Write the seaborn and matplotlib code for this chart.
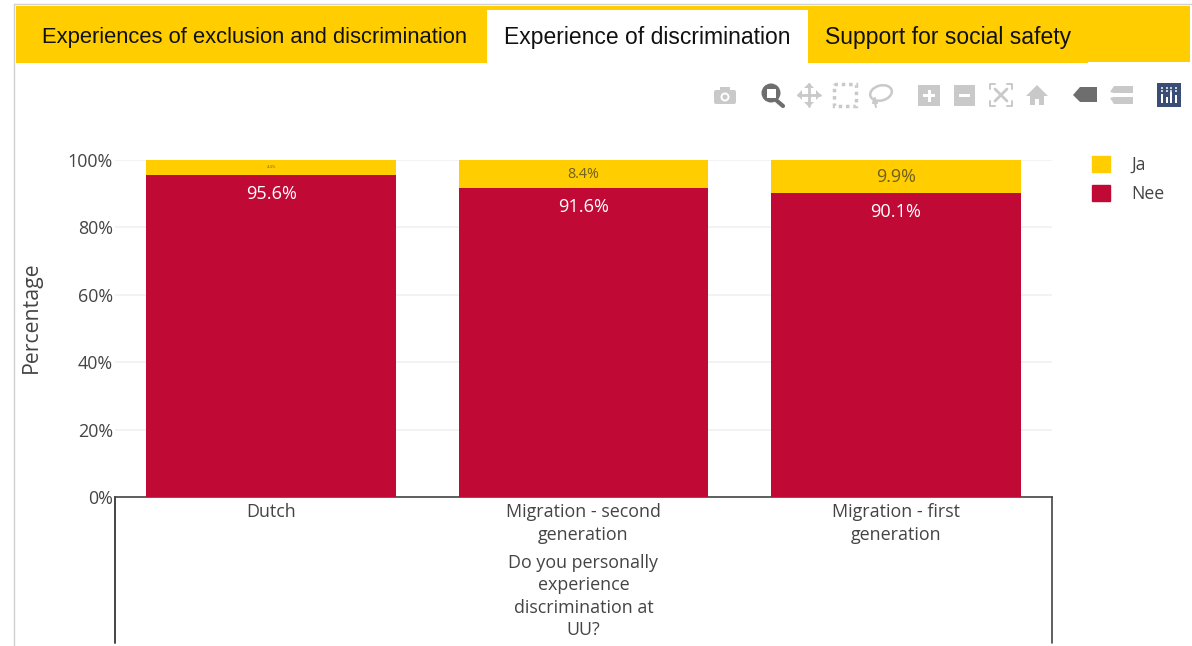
import matplotlib
matplotlib.use("Agg")
import matplotlib.pyplot as plt
from matplotlib.patches import Circle, Ellipse, FancyBboxPatch, Patch, Polygon, Rectangle
import seaborn as sns

categories = ["Dutch", "Migration - second\ngeneration", "Migration - first\ngeneration"]
nee = [95.6, 91.6, 90.1]
ja = [4.4, 8.4, 9.9]
yticks = [0, 20, 40, 60, 80, 100]
tabs = ["Experiences of exclusion and discrimination", "Experience of discrimination", "Support for social safety"]
xtitle = "Do you personally\nexperience\ndiscrimination at\nUU?"

YELLOW = "#ffcd00"
RED = "#c00a35"
TEXT = "#444444"
LIGHT = "#c9c9c9"
DARK = "#6e6e6e"
W, H = 1192, 646

sns.set_theme(style="white")
plt.rcParams["font.family"] = ["Open Sans", "DejaVu Sans"]

fig = plt.figure(figsize=(W / 100, H / 100), dpi=100, facecolor="white")
ax = fig.add_axes([115 / W, (H - 497) / H, 937 / W, 337 / H])

sns.barplot(x=categories, y=nee, color=RED, saturation=1, width=0.8, ax=ax, zorder=3, linewidth=0, edgecolor="none")
sns.barplot(x=categories, y=ja, bottom=nee, color=YELLOW, saturation=1, width=0.8, ax=ax, zorder=3,
            linewidth=0, edgecolor="none")
ax.set_xlim(-0.5, 2.5)
ax.set_ylim(0, 100)

ax.set_yticks(yticks, [f"{v}%" for v in yticks])
ax.yaxis.grid(True, color="#f0f0f0", lw=1.1, zorder=0)
ax.tick_params(axis="y", length=0, pad=1.5, labelsize=12.9, labelcolor=TEXT)
ax.tick_params(axis="x", length=0, pad=4.5, labelsize=12.9, labelcolor=TEXT)
for label in ax.get_xticklabels():
    label.set_linespacing(1.33)
for side in ["top", "left", "right"]:
    ax.spines[side].set_visible(False)
ax.spines["bottom"].set_color(TEXT)
ax.spines["bottom"].set_linewidth(1.2)

ax.set_ylabel("Percentage", fontsize=15.3, color=TEXT)
ax.yaxis.set_label_coords((42 - 115) / 937, 0.534)
ax.set_xlabel(xtitle, fontsize=12.9, color=TEXT, linespacing=1.33, va="top")
ax.xaxis.set_label_coords(0.5, -(553.5 - 497) / 337)

red_bars = ax.containers[0]
ax.bar_label(red_bars, labels=[f"{v}%" for v in nee], label_type="edge", padding=-20,
             color="white", fontsize=13.1)
for val, size in zip(ja, [3, 10.3, 12.9]):
    ax.bar_label(ax.containers[1], labels=[f"{v}%" if v == val else "" for v in ja],
                 label_type="center", color="#6e6020", fontsize=size)

handles = [Patch(color=YELLOW, label="Ja"), Patch(color=RED, label="Nee")]
fig.legend(handles=handles, loc="upper left", bbox_to_anchor=(1092 / W, 1 - 156 / H),
           bbox_transform=fig.transFigure, frameon=False, borderpad=0, borderaxespad=0,
           fontsize=12.7, labelcolor=TEXT, handlelength=1.02, handleheight=1.02,
           labelspacing=0.62, handletextpad=1.2)

# page furniture in pixel coordinates: tabs, frame, modebar
ov = fig.add_axes([0, 0, 1, 1], facecolor="none")
ov.set_xlim(0, W)
ov.set_ylim(H, 0)
ov.axis("off")


def rect(x0, y0, x1, y1, color, **kw):
    ov.add_patch(Rectangle((x0, y0), x1 - x0, y1 - y0, fc=color, ec="none", **kw))


ov.plot([14, 14], [4, H], color="#cfcfcf", lw=1)
ov.plot([14, W], [4, 4], color="#cfcfcf", lw=1)
ov.plot([115, 115], [497, 643], color=TEXT, lw=1.4)
ov.plot([1052, 1052], [497, 643], color=TEXT, lw=1.2)

rect(16, 6, 1190, 61.5, YELLOW)
rect(16, 61, 1088, 63, YELLOW)
rect(487, 10, 808, 64, "white")
for name, x, size in zip(tabs, [42, 504, 825], [15.8, 16.5, 16.5]):
    ov.text(x, 37.5, name, family="Liberation Sans", fontsize=size, color="#111111", va="center", ha="left")

# camera
ov.add_patch(FancyBboxPatch((714, 90), 22, 14, boxstyle="round,pad=0,rounding_size=2", fc=LIGHT, ec="none"))
rect(720, 87, 730, 91, LIGHT)
ov.add_patch(Circle((725, 97), 4.5, fc="white", ec="none"))
ov.add_patch(Circle((725, 97), 2.5, fc=LIGHT, ec="none"))
# zoom
ov.plot([776, 783], [100, 106], color=DARK, lw=3, solid_capstyle="round")
ov.add_patch(Circle((771, 93), 9.5, fc=DARK, ec="none"))
rect(767, 89, 776, 98, "white")
# pan
ov.plot([798, 820], [95, 95], color=LIGHT, lw=2)
ov.plot([809, 809], [84, 106], color=LIGHT, lw=2)
for pts in [[(797, 95), (802, 90), (802, 100)], [(821, 95), (816, 90), (816, 100)],
            [(809, 83), (804, 88), (814, 88)], [(809, 107), (804, 102), (814, 102)]]:
    ov.add_patch(Polygon(pts, fc=LIGHT, ec="none"))
# box select
ov.add_patch(Rectangle((834, 84), 22, 22, fc="none", ec=LIGHT, lw=2.5, ls=(0, (1, 1.1))))
# lasso
ov.add_patch(Ellipse((881, 93), 22, 15, angle=-15, fc="none", ec=LIGHT, lw=1.8))
ov.plot([875, 873, 877, 874, 876], [98, 103, 103, 99, 107], color=LIGHT, lw=1.5)
# zoom in / out
rect(918, 85, 940, 106, LIGHT)
rect(923, 94, 935, 97, "white")
rect(927.5, 89.5, 930.5, 101.5, "white")
rect(954, 85, 975, 106, LIGHT)
rect(959, 94, 970, 97, "white")
# autoscale
for cx, cy, dx, dy in [(990, 84, 1, 1), (1012, 84, -1, 1), (990, 106, 1, -1), (1012, 106, -1, -1)]:
    ov.plot([cx + 5 * dx, cx, cx], [cy, cy, cy + 5 * dy], color=LIGHT, lw=1.4)
ov.plot([995, 1007], [89, 101], color=LIGHT, lw=2)
ov.plot([1007, 995], [89, 101], color=LIGHT, lw=2)
# home
ov.add_patch(Polygon([(1026, 96), (1037, 85), (1048, 96), (1044, 96), (1044, 105), (1039, 105),
                      (1039, 99), (1035, 99), (1035, 105), (1030, 105), (1030, 96)], fc=LIGHT, ec="none"))
# hover closest / compare
ov.add_patch(Polygon([(1073, 95), (1080, 87), (1097, 87), (1097, 102), (1080, 102)], fc=DARK, ec="none"))
ov.add_patch(Polygon([(1110, 92), (1114, 86), (1133, 86), (1133, 93), (1114, 93)], fc=LIGHT, ec="none"))
ov.add_patch(Polygon([(1110, 98), (1114, 97), (1133, 97), (1133, 104), (1114, 104)], fc=LIGHT, ec="none"))
# plotly logo
rect(1157, 83, 1181, 107, "#3a4d75")
for x, top in zip([1161, 1165.5, 1170, 1174.5], [94, 97, 92, 95]):
    rect(x, top, x + 2.2, 103, "white")
for x in [1161, 1165.5, 1170, 1174.5]:
    for y in [87, 90]:
        rect(x, y, x + 2.2, y + 1.6, "#c7cfe0")

fig.savefig("out.png", dpi=100)
